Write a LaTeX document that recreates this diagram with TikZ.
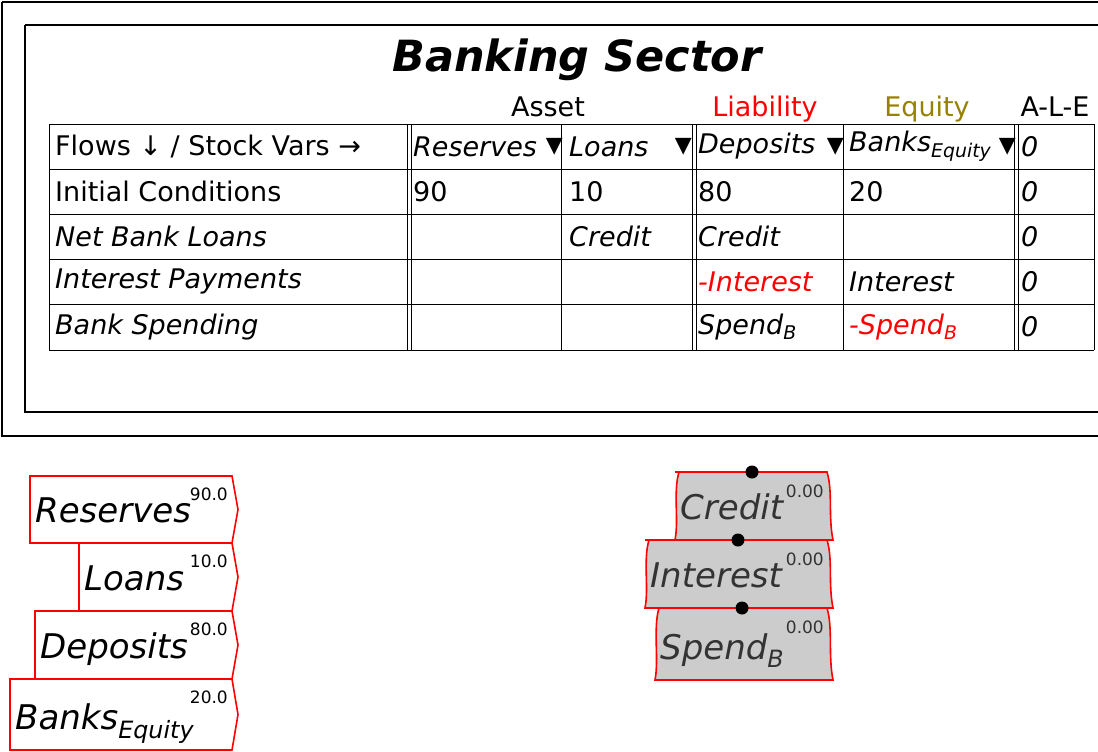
\documentclass[tikz,border=0pt]{standalone}
\usepackage{fontspec}
\setmainfont{DejaVu Sans}
\usetikzlibrary{positioning,calc}
\definecolor{eqcol}{RGB}{150,130,0}
\definecolor{flowtext}{RGB}{51,51,51}
\tikzset{
	cell/.style={anchor=west, inner sep=0pt, font=\fontsize{27}{29}\selectfont},
	icell/.style={cell, font=\fontsize{27}{29}\selectfont\itshape},
	head/.style={anchor=base, inner sep=0pt, font=\fontsize{27}{29}\selectfont},
	tri/.style={anchor=east, inner sep=0pt, font=\fontsize{22}{24}\selectfont},
	stockbox/.style={draw=red, line width=1.6pt, fill=white},
	flowbox/.style={draw=red, line width=1.6pt, fill=black!20},
	stockname/.style={anchor=base west, inner sep=0pt, font=\fontsize{34}{36}\selectfont\itshape},
	val/.style={anchor=base east, inner sep=0pt, font=\fontsize{17}{18}\selectfont},
}
\begin{document}
\begin{tikzpicture}[x=1pt, y=-1pt]
	\useasboundingbox (0,0) rectangle (1098,752);
	\draw[line width=1.4pt] (2,2) -- (1110,2) (2,2) -- (2,436) -- (1110,436);
	\draw[line width=1.4pt] (25,25) -- (1110,25) (25,25) -- (25,412) -- (1110,412);
	\node[inner sep=0pt, font=\fontsize{43}{45}\selectfont\bfseries\itshape] (title) at (577,60) {Banking Sector};
	\node[head] (asset) at (548,117) {Asset};
	\node[head, text=red] (liab) at (765,117) {Liability};
	\node[head, text=eqcol] (eq) at (927,117) {Equity};
	\node[head] (ale) at (1055,117) {A-L-E};
	% grid
	\foreach \y in {124,169,214,259,304,350}
		\draw (49,\y) -- (1094,\y);
	\foreach \x in {49,407,411,561,692,696,843,1014,1018,1094}
		\draw (\x,124) -- (\x,350);
	% header row
	\node[cell] (fl) at (55,146.5) {Flows ↓ / Stock Vars →};
	\node[icell] (hres) at (413,146.5) {Reserves};
	\node[icell] (hloa) at (569,146.5) {Loans};
	\node[icell] (hdep) at (698,146.5) {Deposits};
	\node[icell] (hbeq) at (849,146.5) {Banks$_{\mathit{Equity}}$};
	\foreach \x/\n in {563/a,692/b,844/c,1016/d}
		\node[tri] (tri\n) at (\x,146.5) {▼};
	% rows
	\node[cell] (ic) at (55,191.5) {Initial Conditions};
	\node[cell] (ic1) at (413,191.5) {90};
	\node[cell] (ic2) at (569,191.5) {10};
	\node[cell] (ic3) at (698,191.5) {80};
	\node[cell] (ic4) at (849,191.5) {20};
	\node[icell] (nbl) at (55,236.5) {Net Bank Loans};
	\node[icell] (nbl2) at (569,236.5) {Credit};
	\node[icell] (nbl3) at (698,236.5) {Credit};
	\node[icell] (ip) at (55,281.5) {Interest Payments};
	\node[icell, text=red] (ip3) at (698,281.5) {-Interest};
	\node[icell] (ip4) at (849,281.5) {Interest};
	\node[icell] (bs) at (55,327) {Bank Spending};
	\node[icell] (bs3) at (698,327) {Spend$_{\mathit{B}}$};
	\node[icell, text=red] (bs4) at (849,327) {-Spend$_{\mathit{B}}$};
	\foreach \y/\n in {146.5/a,191.5/b,236.5/c,281.5/d,327/e}
		\node[icell] (z\n) at (1021,\y) {0};
	% stocks
	\foreach \l/\t/\b/\nm/\v/\n in {30/476/543/Reserves/90.0/sres, 79/543/611/Loans/10.0/sloa, 35/611/679/Deposits/80.0/sdep, 10/679/750/{Banks$_{\mathit{Equity}}$}/20.0/sbeq}{
		\draw[stockbox] (\l,\t) -- (232,\t) -- (238,{(\t+\b)/2}) -- (232,\b) -- (\l,\b) -- cycle;
		\node[stockname] (\n) at (\l+5,{\b-21}) {\nm};
		\node[val] (\n v) at (228,{\t+24}) {\v};
	}
	% flows
	\foreach \l/\t/\b/\nm/\dx/\n in {675/472/540/Credit/752/fcre, 645/540/608/Interest/738/fint, 655/608/680/{Spend$_{\mathit{B}}$}/742/fspe}{
		\draw[flowbox] (\l,\t) -- (827,\t) .. controls (833,{\t+20}) and (828,{\b-25}) .. (833,\b) -- (\l,\b) .. controls (\l+4,{\b-20}) and (\l-2,{\t+20}) .. (\l+4,\t) -- cycle;
		\node[stockname, text=flowtext] (\n) at (\l+5,{\b-21}) {\nm};
		\node[val, text=flowtext] (\n v) at (824,{\t+25}) {0.00};
		\fill (\dx,\t) circle (6.5);
	}
\end{tikzpicture}
\end{document}
